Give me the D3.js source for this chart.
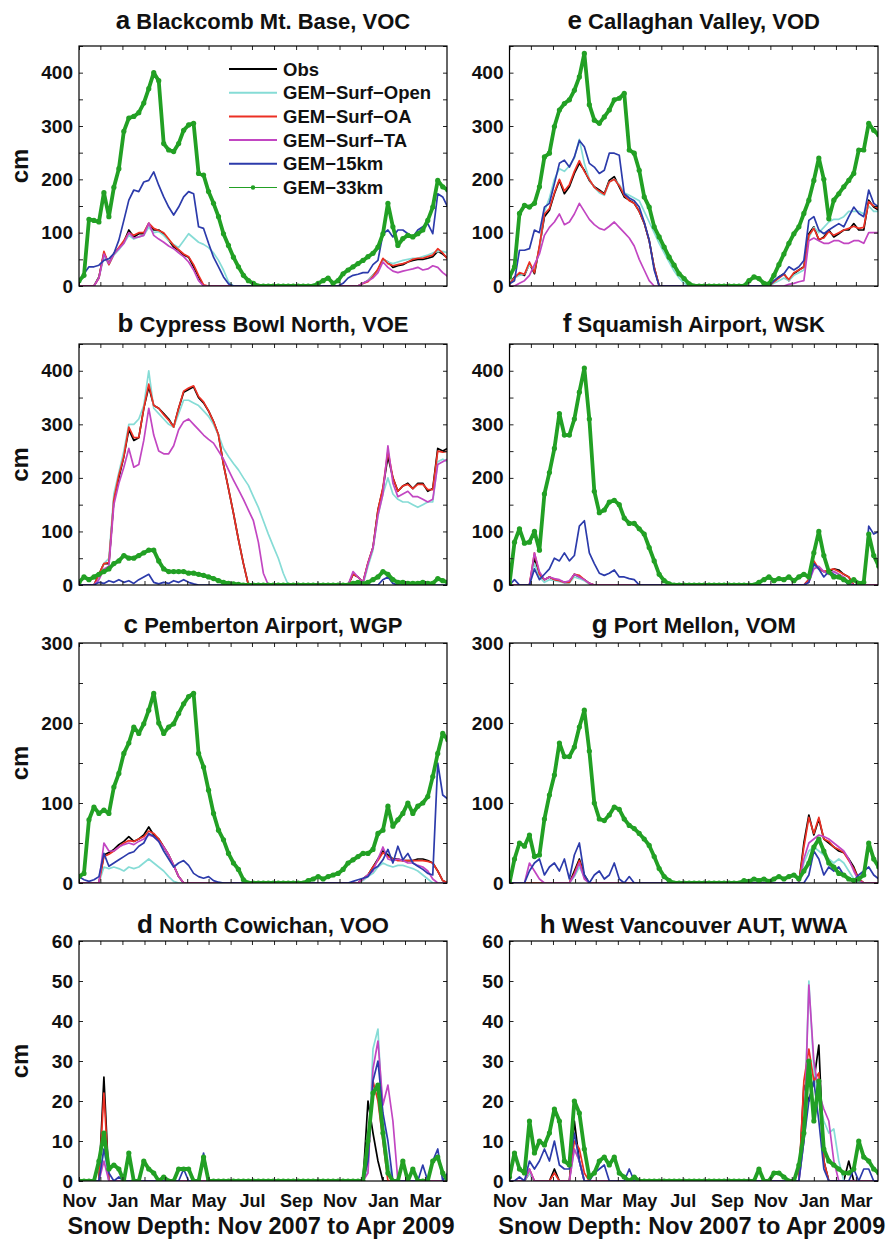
<!DOCTYPE html>
<html>
<head>
<meta charset="utf-8">
<script src="https://cdn.jsdelivr.net/npm/d3@7"></script>
<style>
  body { margin: 0; background: #fff; }
  svg text { font-family: "Liberation Sans", Arial, Helvetica, sans-serif; font-weight: bold; }
</style>
</head>
<body>
<svg id="fig" width="891" height="1242"></svg>
<script>
// Snow depth (cm), weekly samples starting 1 Nov 2007 (75 weeks).

const seriesNames = ["Obs", "GEM\u2212Surf\u2212Open", "GEM\u2212Surf\u2212OA", "GEM\u2212Surf\u2212TA", "GEM\u221215km", "GEM\u221233km"];
const monthLabels = ["Nov", "Jan", "Mar", "May", "Jul", "Sep", "Nov", "Jan", "Mar"];
const captionText = "Snow Depth: Nov 2007 to Apr 2009";

// a  Blackcomb Mt. Base, VOC
const vocObs = [0,0,0,0,17, 61,42,61,70,83, 105,92,98,98,117, 105,105,98,86,73, 67,58,54,36,17,
  0,0,0,0,0, 0,0,0,0,0, 0,0,0,0,0, 0,0,0,0,0, 0,0,0,0,0,
  0,0,0,0,0, 0,0,5,10,20, 30,50,45,35,38, 40,45,48,50,50, 52,55,65,60,52];
const vocOpen = [0,0,0,0,15, 55,40,58,68,80, 95,88,92,95,110, 100,102,95,85,78, 72,85,98,90,82,
  78,72,62,48,30, 8,0,0,0,0, 0,0,0,0,0, 0,0,0,0,0, 0,0,0,0,0,
  0,0,0,0,0, 0,0,5,10,20, 30,50,45,42,45, 48,50,52,52,55, 58,62,65,65,62];
const vocOA = [0,0,0,0,15, 65,40,60,72,85, 100,95,100,100,118, 108,104,100,88,76, 68,60,55,40,20,
  2,0,0,0,0, 0,0,0,0,0, 0,0,0,0,0, 0,0,0,0,0, 0,0,0,0,0,
  0,0,0,0,0, 0,0,5,8,18, 32,52,42,38,40, 42,45,50,52,52, 55,58,70,62,50];
const vocTA = [0,0,0,0,15, 60,42,60,70,80, 100,90,92,95,118, 95,88,82,75,70, 62,55,45,30,10,
  0,0,0,0,0, 0,0,0,0,0, 0,0,0,0,0, 0,0,0,0,0, 0,0,0,0,0,
  0,0,0,0,0, 0,0,5,10,15, 25,45,35,28,25, 28,30,32,35,30, 32,38,35,25,18];
const voc15 = [5,23,36,36,39, 48,51,61,86,123, 161,180,177,195,198, 214,189,167,148,133, 148,167,177,173,111,
  108,80,54,36,17, 4,0,0,0,0, 0,0,0,0,0, 0,0,0,0,0, 0,0,0,0,0,
  0,0,0,5,15, 20,22,25,25,40, 48,98,105,92,105, 105,98,92,105,111, 117,98,173,167,148];
const voc33 = [10,20,125,123,120, 175,130,185,220,290, 315,318,325,343,370, 400,385,267,255,252, 267,292,302,305,211,
  208,177,155,130,98, 76,54,36,20,10, 5,0,0,0,0, 0,0,0,0,0, 0,0,0,5,10,
  15,5,10,23,30, 36,42,48,55,61, 73,98,155,111,76, 89,95,92,98,105, 123,148,198,186,180];

// b  Cypress Bowl North, VOE
const voeObs = [0,0,0,0,20, 40,40,160,200,240, 290,270,275,330,370, 335,330,320,310,295, 330,360,365,370,350,
  340,325,305,280,225, 180,134,85,40,0, 0,0,0,0,0, 0,0,0,0,0, 0,0,0,0,0,
  0,0,0,0,0, 20,15,5,40,70, 140,180,240,200,175, 185,190,180,190,190, 175,180,255,250,255];
const voeOpen = [0,0,0,0,15, 40,50,170,210,250, 300,300,310,335,400, 330,320,310,300,295, 320,345,345,340,335,
  325,315,300,280,255, 240,227,215,200,186, 165,145,120,95,72, 50,22,0,0,0, 0,0,0,0,0,
  0,0,0,0,0, 0,0,0,35,65, 130,170,200,170,160, 155,155,150,145,150, 155,155,230,235,230];
const voeOA = [0,0,0,0,20, 40,42,160,205,240, 295,275,275,330,375, 335,330,318,308,295, 330,362,368,372,352,
  342,325,305,280,225, 180,134,85,40,0, 0,0,0,0,0, 0,0,0,0,0, 0,0,0,0,0,
  0,0,0,0,0, 20,15,5,42,70, 140,182,250,200,175, 185,188,180,188,188, 178,178,250,248,250];
const voeTA = [0,0,0,0,10, 30,35,150,190,220, 255,220,225,270,330, 280,250,245,245,260, 290,305,310,300,290,
  280,272,265,250,235, 215,196,178,160,140, 120,80,22,0,0, 0,0,0,0,0, 0,0,0,0,0,
  0,0,0,0,0, 25,15,5,40,70, 130,170,260,190,165, 170,175,165,165,160, 155,160,225,230,235];
const voe15 = [0,0,0,0,5, 3,8,5,10,5, 8,3,10,15,20, 5,2,5,3,8, 5,10,5,2,0,
  0,0,0,0,0, 0,0,0,0,0, 0,0,0,0,0, 0,0,0,0,0, 0,0,0,0,0,
  0,0,0,0,0, 0,0,0,0,0, 0,10,15,3,0, 0,0,0,0,0, 0,0,0,0,0];
const voe33 = [5,15,10,15,20, 25,30,40,45,55, 50,50,55,60,65, 65,45,30,25,25, 25,25,22,22,20,
  18,15,12,8,5, 3,2,1,0,0, 0,0,0,0,0, 0,0,0,0,0, 0,0,0,0,0,
  0,0,0,0,0, 3,5,2,5,10, 15,25,20,10,5, 5,3,3,3,5, 3,3,12,8,5];

// c  Pemberton Airport, WGP
const wgpObs = [0,0,0,0,0, 35,38,42,48,52, 58,52,55,60,70, 60,55,45,35,22, 8,0,0,0,0,
  0,0,0,0,0, 0,0,0,0,0, 0,0,0,0,0, 0,0,0,0,0, 0,0,0,0,0,
  0,0,0,0,0, 0,0,5,10,20, 30,40,35,30,30, 28,28,28,30,30, 28,25,15,3,0];
const wgpOpen = [0,0,0,0,0, 20,18,20,18,15, 20,18,20,25,30, 25,20,15,8,2, 0,0,0,0,0,
  0,0,0,0,0, 0,0,0,0,0, 0,0,0,0,0, 0,0,0,0,0, 0,0,0,0,0,
  0,0,0,0,0, 0,0,3,8,12, 20,25,22,20,22, 22,20,18,15,10, 5,0,0,0,0];
const wgpOA = [0,0,0,0,0, 33,36,40,45,50, 53,52,55,58,65, 62,55,45,35,22, 8,0,0,0,0,
  0,0,0,0,0, 0,0,0,0,0, 0,0,0,0,0, 0,0,0,0,0, 0,0,0,0,0,
  0,0,0,0,0, 0,0,5,10,20, 28,38,33,30,28, 28,28,28,28,28, 27,25,15,3,0];
const wgpTA = [0,0,0,0,0, 50,40,40,45,48, 50,48,52,55,60, 58,52,45,35,22, 8,0,0,0,0,
  0,0,0,0,0, 0,0,0,0,0, 0,0,0,0,0, 0,0,0,0,0, 0,0,0,0,0,
  0,0,0,0,0, 0,0,5,10,15, 30,45,30,28,30, 28,25,25,22,20, 15,5,0,0,0];
const wgp15 = [8,4,2,4,8, 37,21,25,29,33, 37,39,46,50,62, 58,52,40,30,20, 25,28,22,12,8,
  6,8,3,1,0, 0,0,0,0,0, 0,0,0,0,0, 0,0,0,0,0, 0,0,0,0,0,
  0,0,0,0,0, 2,4,6,8,17, 21,29,42,25,46, 29,37,25,21,17, 12,10,150,110,105];
const wgp33 = [8,12,79,95,87, 91,87,120,137,162, 175,195,187,199,216, 237,200,187,195,199, 212,224,233,237,162,
  145,116,87,66,54, 37,25,17,4,0, 0,0,0,0,0, 0,0,0,0,0, 0,3,5,8,5,
  8,10,12,17,25, 29,33,37,37,42, 62,66,96,71,79, 87,100,87,96,100, 108,133,162,187,179];

// d  North Cowichan, VOO
const vooObs = [0,0,0,0,0, 26,0,0,0,0, 0,0,0,0,0, 0,0,0,0,0, 0,0,0,0,0,
  0,0,0,0,0, 0,0,0,0,0, 0,0,0,0,0, 0,0,0,0,0, 0,0,0,0,0,
  0,0,0,0,0, 0,0,0,20,12, 5,0,0,0,0, 0,0,0,0,0, 0,0,0,0,0];
const vooOpen = [0,0,0,0,0, 8,0,0,0,0, 0,0,0,0,0, 0,0,0,0,0, 0,0,0,0,0,
  0,0,0,0,0, 0,0,0,0,0, 0,0,0,0,0, 0,0,0,0,0, 0,0,0,0,0,
  0,0,0,0,0, 0,0,0,3,33, 38,15,5,0,0, 0,0,0,0,0, 0,0,0,0,0];
const vooOA = [0,0,0,0,0, 22,0,0,0,0, 0,0,0,0,0, 0,0,0,0,0, 0,0,0,0,0,
  0,0,0,0,0, 0,0,0,0,0, 0,0,0,0,0, 0,0,0,0,0, 0,0,0,0,0,
  0,0,0,0,0, 0,0,0,5,25, 20,10,0,0,0, 0,0,0,0,0, 0,0,0,0,0];
const vooTA = [0,0,0,0,0, 5,0,0,0,0, 0,0,0,0,0, 0,0,0,0,0, 0,0,0,0,0,
  0,0,0,0,0, 0,0,0,0,0, 0,0,0,0,0, 0,0,0,0,0, 0,0,0,0,0,
  0,0,0,0,0, 0,0,0,2,28, 35,19,24,15,0, 0,0,0,0,0, 0,0,0,0,0];
const voo15 = [0,0,0,0,0, 8,2,0,1,0, 0,0,0,0,0, 0,0,0,0,0, 0,3,0,0,0,
  7,0,0,0,0, 0,0,0,0,0, 0,0,0,0,0, 0,0,0,0,0, 0,0,0,0,0,
  0,0,0,0,0, 0,0,0,5,25, 30,17,10,0,0, 0,0,0,0,4, 0,5,8,0,2];
const voo33 = [0,0,0,0,5, 12,3,4,3,0, 7,0,0,5,3, 2,0,1,0,0, 3,3,3,0,0,
  6,0,0,0,0, 0,0,0,0,0, 0,0,0,0,0, 0,0,0,0,0, 0,0,0,0,0,
  0,0,0,0,0, 0,0,0,10,22, 24,12,2,0,0, 5,0,3,0,0, 0,5,6,2,0];

// e  Callaghan Valley, VOD
const vodObs = [4,17,23,20,42, 23,73,130,142,173, 198,173,186,211,230, 217,198,186,180,173, 198,205,186,167,161,
  155,140,118,85,35, 0,0,0,0,0, 0,0,0,0,0, 0,0,0,0,0, 0,0,0,0,0,
  0,0,0,8,17, 23,10,23,30,36, 98,111,86,92,105, 92,98,105,105,117, 105,105,161,148,142];
const vodOpen = [4,15,20,22,40, 30,70,140,165,200, 220,215,225,240,275, 230,200,185,175,170, 195,200,190,175,170,
  165,160,140,120,100, 80,62,45,28,15, 5,0,0,0,0, 0,0,0,0,0, 0,0,0,0,0,
  0,0,0,5,10, 15,10,20,25,30, 90,110,100,110,120, 125,125,130,140,140, 140,135,150,140,140];
const vodOA = [4,15,25,22,45, 25,75,135,145,175, 200,178,190,215,235, 215,200,185,178,172, 195,200,188,170,160,
  155,140,118,85,35, 0,0,0,0,0, 0,0,0,0,0, 0,0,0,0,0, 0,0,0,0,0,
  0,0,0,8,15, 22,12,25,30,35, 95,108,88,90,102, 95,100,105,108,112, 108,110,158,150,145];
const vodTA = [0,0,5,10,20, 40,60,95,110,120, 135,115,120,135,155, 140,125,115,108,105, 112,120,110,100,90,
  75,50,30,10,0, 0,0,0,0,0, 0,0,0,0,0, 0,0,0,0,0, 0,0,0,0,0,
  0,0,0,0,0, 0,3,5,8,10, 85,90,85,80,80, 85,85,80,80,85, 85,80,100,100,100];
const vod15 = [4,10,67,67,70, 105,100,148,155,192, 230,236,223,242,273, 261,230,223,211,217, 249,249,245,173,165,
  160,148,120,86,30, 0,0,0,0,0, 0,0,0,0,0, 0,0,0,0,0, 0,0,0,0,0,
  0,0,0,10,17, 23,36,30,36,48, 123,130,105,98,105, 111,117,111,130,148, 136,130,180,155,148];
const vod33 = [17,36,136,151,148, 155,186,242,249,299, 330,342,349,367,392, 436,340,311,305,317, 330,349,352,361,255,
  249,217,167,148,111, 92,73,54,39,23, 14,4,0,0,0, 0,0,0,0,0, 0,0,0,10,17,
  14,5,4,20,40, 60,80,98,111,136, 161,198,240,200,126, 161,173,186,198,211, 255,255,305,292,283];

// f  Squamish Airport, WSK
const wskObs = [0,0,0,0,0, 50,20,10,15,10, 8,5,5,20,15, 10,3,0,0,0, 0,0,0,0,0,
  0,0,0,0,0, 0,0,0,0,0, 0,0,0,0,0, 0,0,0,0,0, 0,0,0,0,0,
  0,0,0,0,0, 0,0,0,0,0, 10,40,30,25,25, 30,28,20,15,0, 0,0,0,0,0];
const wskOpen = [0,0,0,0,0, 40,15,5,10,8, 6,4,4,15,12, 8,2,0,0,0, 0,0,0,0,0,
  0,0,0,0,0, 0,0,0,0,0, 0,0,0,0,0, 0,0,0,0,0, 0,0,0,0,0,
  0,0,0,0,0, 0,0,0,0,0, 5,35,30,25,20, 25,20,10,0,0, 0,0,0,0,0];
const wskOA = [0,0,0,0,0, 60,20,10,15,10, 8,5,5,20,18, 10,3,0,0,0, 0,0,0,0,0,
  0,0,0,0,0, 0,0,0,0,0, 0,0,0,0,0, 0,0,0,0,0, 0,0,0,0,0,
  0,0,0,0,0, 0,0,0,0,0, 10,45,30,25,28, 30,25,20,15,0, 0,0,0,0,0];
const wskTA = [0,0,0,0,0, 60,25,10,15,12, 10,5,8,20,15, 10,3,0,0,0, 0,0,0,0,0,
  0,0,0,0,0, 0,0,0,0,0, 0,0,0,0,0, 0,0,0,0,0, 0,0,0,0,0,
  0,0,0,0,0, 0,0,0,0,0, 5,30,35,25,20, 25,20,15,5,0, 0,0,0,0,0];
const wsk15 = [0,10,0,0,0, 30,10,20,30,50, 45,60,45,55,110, 120,60,40,22,18, 22,28,15,15,12,
  10,0,0,0,0, 0,0,0,0,0, 0,0,0,0,0, 0,0,0,0,0, 0,0,0,0,0,
  0,0,0,0,0, 0,0,0,0,0, 5,40,30,15,25, 20,15,10,0,0, 0,0,110,95,100];
const wsk33 = [2,80,105,78,80, 100,65,170,210,255, 320,280,280,310,360, 405,310,175,135,140, 155,158,150,125,115,
  115,105,95,70,45, 20,8,2,0,0, 0,0,0,0,0, 0,0,0,0,0, 0,0,0,0,0,
  5,10,15,8,12, 10,15,8,15,20, 15,60,100,55,25, 15,15,10,5,10, 3,5,95,55,35];

// g  Port Mellon, VOM
const vomObs = [0,0,0,0,0, 0,0,0,0,0, 0,0,0,15,30, 10,0,0,0,0, 0,0,0,0,0,
  0,0,0,0,0, 0,0,0,0,0, 0,0,0,0,0, 0,0,0,0,0, 0,0,0,0,0,
  0,0,0,0,0, 0,0,0,0,50, 85,60,80,55,50, 45,40,38,30,20, 5,0,0,0,0];
const vomOpen = [0,0,0,0,0, 0,0,0,0,0, 0,0,0,8,20, 8,0,0,0,0, 0,0,0,0,0,
  0,0,0,0,0, 0,0,0,0,0, 0,0,0,0,0, 0,0,0,0,0, 0,0,0,0,0,
  0,0,0,0,0, 0,0,0,0,25, 40,45,40,35,30, 25,30,25,15,5, 0,0,0,0,0];
const vomOA = [0,0,0,0,0, 0,0,0,0,0, 0,0,0,12,28, 8,0,0,0,0, 0,0,0,0,0,
  0,0,0,0,0, 0,0,0,0,0, 0,0,0,0,0, 0,0,0,0,0, 0,0,0,0,0,
  0,0,0,0,0, 0,0,0,0,45, 82,62,82,55,52, 45,42,38,28,18, 5,0,0,0,0];
const vomTA = [0,0,0,0,25, 15,5,0,0,0, 0,0,0,10,25, 5,0,0,0,0, 0,0,0,0,0,
  0,0,0,0,0, 0,0,0,0,0, 0,0,0,0,0, 0,0,0,0,0, 0,0,0,0,0,
  0,0,0,0,0, 0,0,0,0,30, 50,55,60,58,55, 50,45,40,30,15, 3,0,0,0,0];
const vom15 = [0,0,0,0,15, 25,30,10,20,25, 15,30,5,35,50, 10,0,10,15,5, 10,25,5,0,8,
  0,0,0,0,0, 0,0,0,0,0, 0,0,0,0,0, 0,0,0,0,0, 0,0,0,0,0,
  0,0,0,0,0, 0,0,0,0,0, 10,40,30,10,20, 15,20,10,5,3, 10,15,20,10,5];
const vom33 = [0,30,50,46,60, 33,35,80,110,135, 175,158,158,170,195, 216,165,100,80,78, 85,95,92,80,72,
  68,62,55,47,33, 18,8,3,0,0, 0,0,0,0,0, 0,0,0,0,0, 0,0,3,2,5,
  3,5,2,5,8, 5,8,10,5,15, 25,45,55,40,25, 20,12,10,5,3, 5,10,50,30,20];

// h  West Vancouver AUT, WWA
const wwaObs = [0,0,0,0,2, 0,0,0,0,3, 0,0,0,15,5, 0,0,0,0,0, 0,0,0,0,0,
  0,0,0,0,0, 0,0,0,0,0, 0,0,0,0,0, 0,0,0,0,0, 0,0,0,0,0,
  0,0,0,0,0, 0,0,0,0,24, 20,25,34,5,0, 0,0,0,5,0, 0,0,0,0,0];
const wwaOpen = [0,0,0,0,2, 0,0,0,0,0, 0,0,0,8,5, 0,0,0,0,0, 0,0,0,0,0,
  0,0,0,0,0, 0,0,0,0,0, 0,0,0,0,0, 0,0,0,0,0, 0,0,0,0,0,
  0,0,0,0,0, 0,0,0,0,10, 50,28,20,15,12, 13,5,0,0,0, 0,0,0,0,0];
const wwaOA = [0,0,0,0,3, 0,0,0,0,2, 0,0,0,10,8, 2,0,0,0,0, 0,0,0,0,0,
  0,0,0,0,0, 0,0,0,0,0, 0,0,0,0,0, 0,0,0,0,0, 0,0,0,0,0,
  0,0,0,0,0, 0,0,0,0,25, 33,25,27,5,0, 0,0,0,0,0, 0,0,0,0,0];
const wwaTA = [0,0,0,0,3, 0,0,0,0,0, 0,0,0,8,5, 0,0,0,0,0, 0,0,0,0,0,
  0,0,0,0,0, 0,0,0,0,0, 0,0,0,0,0, 0,0,0,0,0, 0,0,0,0,0,
  0,0,0,0,0, 0,0,0,0,10, 49,30,22,18,15, 5,0,0,0,0, 0,0,0,0,0];
const wwa15 = [0,0,1,0,5, 3,5,8,5,10, 4,3,3,12,5, 0,0,2,3,4, 0,0,0,0,3,
  0,0,0,0,0, 0,0,0,0,0, 0,0,0,0,0, 0,0,0,0,0, 0,0,0,0,0,
  0,0,0,0,0, 0,0,0,0,10, 20,25,15,3,0, 0,0,0,0,3, 0,3,3,0,0];
const wwa33 = [1,7,3,2,15, 7,10,9,12,18, 15,5,4,20,17, 8,1,2,5,6, 4,6,2,1,0,
  1,0,0,0,0, 0,0,0,0,0, 0,0,0,0,0, 0,0,0,0,0, 0,0,0,0,0,
  3,0,0,2,2, 1,0,0,4,12, 30,15,25,8,5, 4,3,2,2,3, 10,6,5,3,2];

// ---- panel setup ----
const panels = [
  { letter: "a", name: "Blackcomb Mt. Base, VOC", col: 0, row: 0, yMax: 450, minor: 50, major: 100, series: [vocObs, vocOpen, vocOA, vocTA, voc15, voc33] },
  { letter: "b", name: "Cypress Bowl North, VOE", col: 0, row: 1, yMax: 450, minor: 50, major: 100, series: [voeObs, voeOpen, voeOA, voeTA, voe15, voe33] },
  { letter: "c", name: "Pemberton Airport, WGP", col: 0, row: 2, yMax: 300, minor: 50, major: 100, series: [wgpObs, wgpOpen, wgpOA, wgpTA, wgp15, wgp33] },
  { letter: "d", name: "North Cowichan, VOO", col: 0, row: 3, yMax: 60, minor: 10, major: 10, series: [vooObs, vooOpen, vooOA, vooTA, voo15, voo33] },
  { letter: "e", name: "Callaghan Valley, VOD", col: 1, row: 0, yMax: 450, minor: 50, major: 100, series: [vodObs, vodOpen, vodOA, vodTA, vod15, vod33] },
  { letter: "f", name: "Squamish Airport, WSK", col: 1, row: 1, yMax: 450, minor: 50, major: 100, series: [wskObs, wskOpen, wskOA, wskTA, wsk15, wsk33] },
  { letter: "g", name: "Port Mellon, VOM", col: 1, row: 2, yMax: 300, minor: 50, major: 100, series: [vomObs, vomOpen, vomOA, vomTA, vom15, vom33] },
  { letter: "h", name: "West Vancouver AUT, WWA", col: 1, row: 3, yMax: 60, minor: 10, major: 10, series: [wwaObs, wwaOpen, wwaOA, wwaTA, wwa15, wwa33] }
];

const colors = ["#000000", "#86dcd6", "#ec3024", "#c246c2", "#2c3bab", "#22a024"];
const FONT = "Liberation Sans, Arial, Helvetica, sans-serif";

const colX = [[79, 447], [509.5, 878]];
const rowY = [[46, 286], [344, 585], [643, 883], [941, 1181]];
const titleY = [29, 332, 633, 933];

const start = new Date(2007, 10, 1), end = new Date(2009, 3, 1);
const dates = d3.range(vocObs.length).map(i => d3.timeDay.offset(start, 7 * i));
const months = d3.timeMonth.range(start, end);

const svg = d3.select("#fig");
const defs = svg.append("defs");

function styleAxis(g, size) {
  g.select(".domain").remove();
  g.attr("font-family", FONT).attr("font-size", size).attr("font-weight", "bold");
  g.selectAll(".tick line").attr("stroke", "#222").attr("stroke-width", 1);
  g.selectAll(".tick text").attr("fill", "#111");
}

panels.forEach((p, pi) => {
  const [x0, x1] = colX[p.col];
  const [y0, y1] = rowY[p.row];
  const x = d3.scaleTime().domain([start, end]).range([x0, x1]);
  const y = d3.scaleLinear().domain([0, p.yMax]).range([y1, y0]);
  const g = svg.append("g");

  defs.append("clipPath").attr("id", "clip" + pi)
    .append("rect").attr("x", x0).attr("y", y0 - 2).attr("width", x1 - x0).attr("height", y1 - y0 + 2);

  const plot = g.append("g").attr("clip-path", `url(#clip${pi})`);
  const line = d3.line().x((d, i) => x(dates[i])).y(d => y(d));

  p.series.forEach((vals, si) => {
    const isDots = si === 5;
    plot.append("path").datum(vals)
      .attr("d", line)
      .attr("fill", "none")
      .attr("stroke", colors[si])
      .attr("stroke-width", isDots ? 3.8 : 1.7)
      .attr("stroke-linejoin", "round")
      .attr("stroke-linecap", "round");
    if (isDots) {
      plot.append("g").selectAll("circle").data(vals).join("circle")
        .attr("cx", (d, i) => x(dates[i]))
        .attr("cy", d => y(d))
        .attr("r", 2.6)
        .attr("fill", colors[si]);
    }
  });

  const yTicks = d3.range(0, p.yMax + 0.001, p.minor);
  g.append("g").attr("transform", `translate(${x0},0)`)
    .call(d3.axisLeft(y).tickValues(yTicks).tickSize(-4).tickPadding(6)
      .tickFormat(v => v % p.major === 0 ? v : ""))
    .call(a => styleAxis(a, 19));
  g.append("g").attr("transform", `translate(${x1},0)`)
    .call(d3.axisRight(y).tickValues(yTicks).tickSize(-4).tickFormat(""))
    .call(a => styleAxis(a, 19));

  const bottomRow = p.row === 3;
  g.append("g").attr("transform", `translate(0,${y1})`)
    .call(d3.axisBottom(x).tickValues(months).tickSize(-4).tickPadding(13)
      .tickFormat((d, i) => bottomRow && i % 2 === 0 ? monthLabels[i / 2] : ""))
    .call(a => styleAxis(a, 18));
  g.append("g").attr("transform", `translate(0,${y0})`)
    .call(d3.axisTop(x).tickValues(months).tickSize(-4).tickFormat(""))
    .call(a => styleAxis(a, 18));

  g.append("rect").attr("x", x0).attr("y", y0).attr("width", x1 - x0).attr("height", y1 - y0)
    .attr("fill", "none").attr("stroke", "#000").attr("stroke-width", 1.2);

  const title = g.append("text").attr("x", (x0 + x1) / 2).attr("y", titleY[p.row])
    .attr("text-anchor", "middle").attr("fill", "#111");
  title.append("tspan").attr("font-size", 26).text(p.letter);
  title.append("tspan").attr("font-size", 22).text(" " + p.name);

  if (p.col === 0) {
    g.append("text")
      .attr("transform", `translate(28,${(y0 + y1) / 2}) rotate(-90)`)
      .attr("text-anchor", "middle").attr("font-size", 24).attr("fill", "#111")
      .text("cm");
  }

  if (bottomRow) {
    g.append("text").attr("x", (x0 + x1) / 2 - 2).attr("y", 1234)
      .attr("text-anchor", "middle").attr("font-size", 23.5).attr("fill", "#111")
      .text(captionText);
  }

  if (pi === 0) {
    const lg = g.append("g");
    seriesNames.forEach((name, si) => {
      const ly = 69 + si * 23.7;
      lg.append("line").attr("x1", 229).attr("x2", 277).attr("y1", ly).attr("y2", ly)
        .attr("stroke", colors[si]).attr("stroke-width", si === 5 ? 1.2 : 2);
      if (si === 5) lg.append("circle").attr("cx", 253).attr("cy", ly).attr("r", 2.2).attr("fill", colors[si]);
      lg.append("text").attr("x", 283).attr("y", ly + 6.5).attr("font-size", 18.5).attr("fill", "#111").text(name);
    });
  }
});
</script>
</body>
</html>
